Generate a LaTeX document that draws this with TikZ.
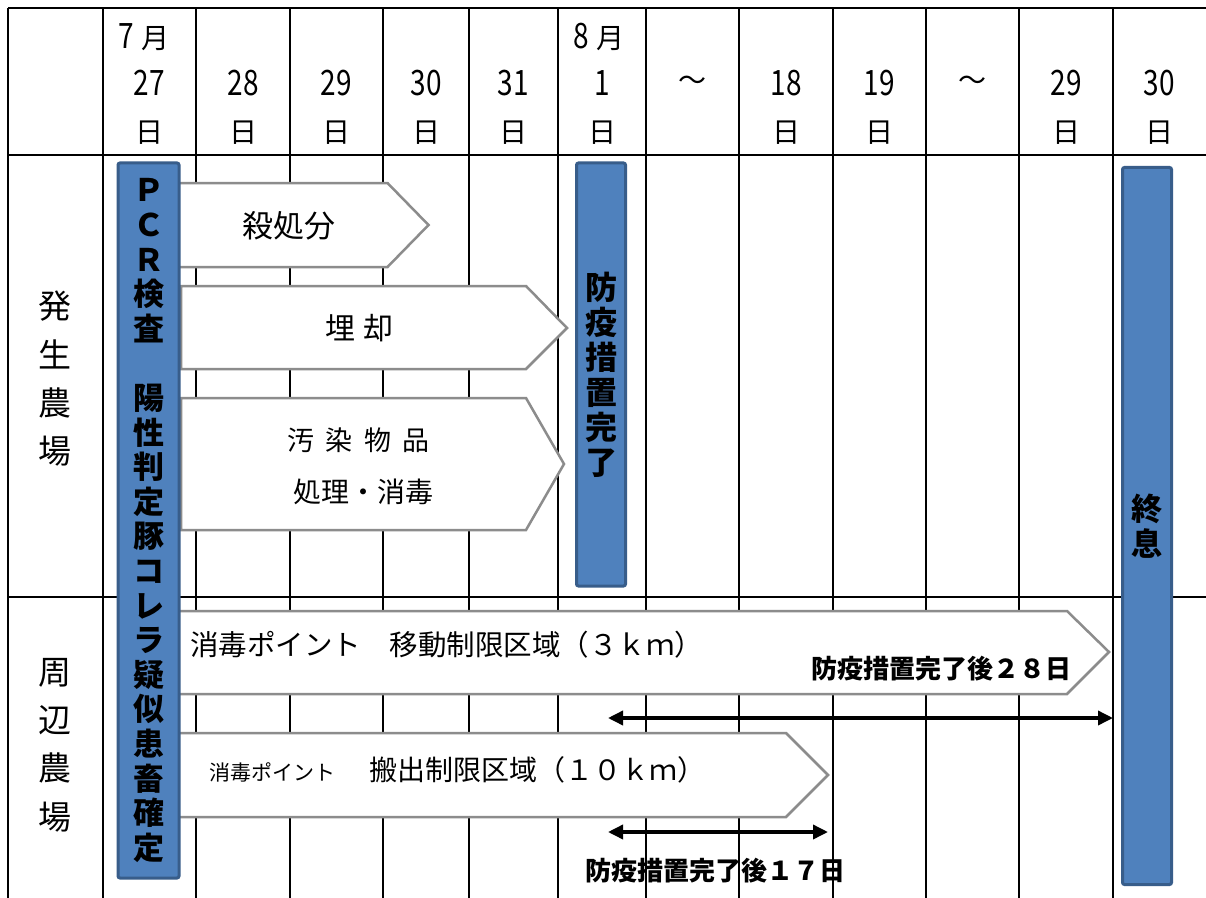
\documentclass[tikz,border=0pt]{standalone}
\usepackage{fontspec}
\setmainfont{Noto Sans CJK JP}
\newfontfamily\nar[FakeStretch=0.8]{Noto Sans CJK JP}
\usetikzlibrary{arrows.meta}
\definecolor{barfill}{HTML}{4F81BD}
\definecolor{barline}{HTML}{385D8A}
\definecolor{arrline}{HTML}{8C8C8C}
\newcommand{\fs}[2]{\fontsize{#1bp}{#2bp}\selectfont}
\begin{document}
\begin{tikzpicture}[x=1bp,y=-1bp,
  gridline/.style={line width=1.8bp, black},
  pent/.style={draw=arrline, line width=2.5bp, fill=white},
  bar/.style={draw=barline, fill=barfill, line width=3bp, rounded corners=2bp, inner sep=0pt, align=center, font=\bfseries\fs{31}{34.6}},
  num/.style={inner sep=0pt, font=\nar\fs{35}{35}},
  day/.style={inner sep=0pt, font=\fs{28}{28}},
  side/.style={inner sep=0pt, align=center, font=\fs{33}{48.3}},
  txt/.style={inner sep=0pt},
  lab/.style={inner sep=0pt, font=\bfseries\fs{26}{26}},
  dbl/.style={line width=3.5bp, {Triangle[length=15bp,width=14bp]}-{Triangle[length=15bp,width=14bp]}}
]
\useasboundingbox (0,0) rectangle (1206,898);
\fill[white] (0,0) rectangle (1206,898);

% grid
\draw[gridline] (8,8) -- (1206,8);
\draw[gridline] (8,155) -- (1206,155);
\draw[gridline] (8,597) -- (1206,597);
\foreach \x in {8,103,196,290,383,469,558,646,739,833,926,1019,1113}
  \draw[gridline] (\x,8) -- (\x,898);

% header
\node[txt] (m7) at (144,37) {{\nar\fs{35}{35}7}\hspace{8bp}{\fs{28}{28}月}};
\node[txt] (m8) at (599,37) {{\nar\fs{35}{35}8}\hspace{8bp}{\fs{28}{28}月}};
\foreach \x/\n/\d in {149.5/a/27, 243/b/28, 336.5/c/29, 426/d/30, 513.5/e/31, 602/f/1, 786/g/18, 879.5/h/19, 1066/i/29, 1159.5/j/30}{
  \node[num] (n\n) at (\x,83) {\d};
  \node[day] (d\n) at (\x,133) {日};
}
\node[day] (t1) at (692.5,83) {～};
\node[day] (t2) at (972.5,83) {～};

% side labels
\node[side] (s1) at (55,379) {発\\生\\農\\場};
\node[side] (s2) at (55,745) {周\\辺\\農\\場};

% pentagon arrows
\draw[pent] (178,183) -- (387.5,183) -- (428.5,225) -- (387.5,267) -- (178,267) -- cycle;
\node[txt, font=\fs{31}{31}] (k1) at (289,226) {殺処分};
\draw[pent] (181,286) -- (526,286) -- (567,328) -- (526,369) -- (181,369) -- cycle;
\node[txt, font=\fs{30}{30}] (k2) at (359.5,328) {埋\hspace{9bp}却};
\draw[pent] (181,398) -- (526,398) -- (564,464) -- (526,530) -- (181,530) -- cycle;
\node[txt, font=\fs{27}{27}] (k3) at (358.5,440) {汚\hspace{11.5bp}染\hspace{11.5bp}物\hspace{11.5bp}品};
\node[txt, font=\fs{28}{28}] (k4) at (363,492) {処理・消毒};
\draw[pent] (178,611) -- (1067,611) -- (1109,652) -- (1067,694) -- (178,694) -- cycle;
\node[txt, anchor=west, font=\fs{28.5}{28.5}] (k5) at (190,645) {消毒ポイント　移動制限区域（３ｋｍ）};
\draw[pent] (178,733) -- (786,733) -- (828,775) -- (786,817) -- (178,817) -- cycle;
\node[txt, anchor=west, font=\fs{28}{28}] (k6) at (209,770) {{\fs{21}{21}消毒ポイント}\hspace{6bp}　搬出制限区域（１０ｋｍ）};

% period arrows
\coordinate (p1a) at (608,718);
\coordinate (p1b) at (1113,718);
\coordinate (p2a) at (608,832);
\coordinate (p2b) at (828,832);
\draw[dbl] (p1a) -- (p1b);
\draw[dbl] (p2a) -- (p2b);
\node[lab, anchor=east] (l1) at (1072,669) {防疫措置完了後２８日};
\node[lab] (l2) at (715.5,871) {防疫措置完了後１７日};

% bars
\node[bar, minimum width=61bp, minimum height=715bp] (pcr) at (148.5,520.5)
  {Ｐ\\Ｃ\\Ｒ\\検\\査\\\mbox{}\\陽\\性\\判\\定\\豚\\コ\\レ\\ラ\\疑\\似\\患\\畜\\確\\定};
\node[bar, minimum width=49bp, minimum height=423bp, font=\bfseries\fs{32}{35}] (bk) at (601,374.5)
  {防\\疫\\措\\置\\完\\了};
\node[bar, minimum width=49bp, minimum height=717bp, font=\bfseries\fs{31}{35}] (ss) at (1147,526)
  {終\\息};
\end{tikzpicture}
\end{document}
